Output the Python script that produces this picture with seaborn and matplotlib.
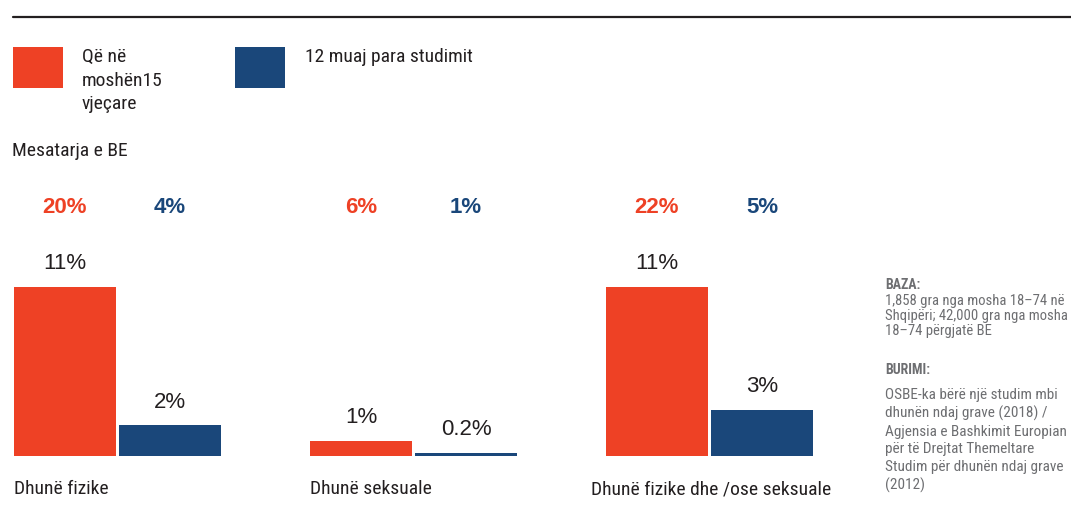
import seaborn as sns
import matplotlib.pyplot as plt
import pandas as pd
from matplotlib.lines import Line2D
from matplotlib.patches import Rectangle

categories = ["Dhunë fizike", "Dhunë seksuale", "Dhunë fizike dhe /ose seksuale"]
periods = ["Që në moshën15 vjeçare", "12 muaj para studimit"]
legend_labels = ["Që në\nmoshën15\nvjeçare", "12 muaj para studimit"]
albania_since15 = [11, 1, 11]
albania_12m = [2, 0.2, 3]
eu_since15 = [20, 6, 22]
eu_12m = [4, 1, 5]

ORANGE = "#EE4125"
BLUE = "#1A477A"
TEXT = "#231F20"
GREY = "#6D6E71"
NARROW = dict(family=["Roboto Condensed", "DejaVu Sans"], fontstretch="condensed")
REGULAR = dict(family=["Liberation Sans", "DejaVu Sans"])

W, H = 1071, 519


def px(x, y):
    # pixel position (from top-left) -> figure fraction
    return x / W, 1 - y / H


df = pd.DataFrame({
    "category": categories * 2,
    "period": [periods[0]] * 3 + [periods[1]] * 3,
    "value": albania_since15 + albania_12m,
})

sns.set_style("white")
fig = plt.figure(figsize=(W / 100, H / 100), dpi=100)
ax = fig.add_axes([0, 63 / H, 860 / W, 226 / H])

sns.barplot(data=df, x="category", y="value", hue="period", hue_order=periods,
            order=categories, palette=[ORANGE, BLUE], saturation=1, width=0.71, gap=0.03,
            linewidth=0, legend=False, ax=ax)
ax.set_xlim(-117.5 / 296, -117.5 / 296 + 860 / 296)
ax.set_ylim(0, 226 / 15.4)
ax.axis("off")

eu_values = [eu_since15, eu_12m]
colors = [ORANGE, BLUE]
for i, cont in enumerate(ax.containers):
    for j, bar in enumerate(cont):
        cx = bar.get_x() + bar.get_width() / 2
        val = bar.get_height()
        ax.annotate(f"{val:g}%", (cx, val), xytext=(0, 23), textcoords="offset pixels",
                    ha="center", va="center", fontsize=16, color=TEXT, **REGULAR)
        ax.annotate(f"{eu_values[i][j]:g}%", (cx, 0), xycoords=("data", "figure fraction"),
                    xytext=(cx, px(0, 207)[1]), textcoords=("data", "figure fraction"),
                    ha="center", va="center", fontsize=16, fontweight="bold",
                    color=colors[i], **REGULAR)

# category labels below each group
label_shift = [0, 0, -15]
for j, cat in enumerate(categories):
    left = ax.containers[0][j].get_x()
    ax.annotate(cat, (left, 0), xytext=(label_shift[j], -33), textcoords="offset pixels",
                ha="left", va="center", fontsize=14, color=TEXT, **NARROW)

# top rule
fig.add_artist(Line2D([13 / W, 1], [1 - 17 / H] * 2, color=TEXT, lw=1.6,
                      transform=fig.transFigure))

# legend
leg_x = [13, 235]
txt_x = [82, 305]
for k in range(2):
    x0, y0 = px(leg_x[k], 88)
    fig.add_artist(Rectangle((x0, y0), 50 / W, 41 / H, color=colors[k],
                             transform=fig.transFigure, lw=0))
    fig.text(*px(txt_x[k], 48), legend_labels[k], ha="left", va="top",
             fontsize=14, color=TEXT, linespacing=1.4, **NARROW)

fig.text(*px(12, 142), "Mesatarja e BE", ha="left", va="top",
         fontsize=14, color=TEXT, **NARROW)

# notes on the right
fig.text(*px(885, 278), "BAZA:", ha="left", va="top", fontsize=10,
         fontweight="bold", color=GREY, **NARROW)
fig.text(*px(885, 294), "1,858 gra nga mosha 18–74 në\nShqipëri; 42,000 gra nga mosha\n18–74 përgjatë BE",
         ha="left", va="top", fontsize=10.5, color=GREY, linespacing=1.1, **NARROW)
fig.text(*px(885, 363), "BURIMI:", ha="left", va="top", fontsize=10,
         fontweight="bold", color=GREY, **NARROW)
fig.text(*px(885, 388), "OSBE-ka bërë një studim mbi\ndhunën ndaj grave (2018) /\nAgjensia e Bashkimit Europian\npër të Drejtat Themeltare\nStudim për dhunën ndaj grave\n(2012)",
         ha="left", va="top", fontsize=11, color=GREY, linespacing=1.32, **NARROW)

fig.savefig("out.png", dpi=100)
